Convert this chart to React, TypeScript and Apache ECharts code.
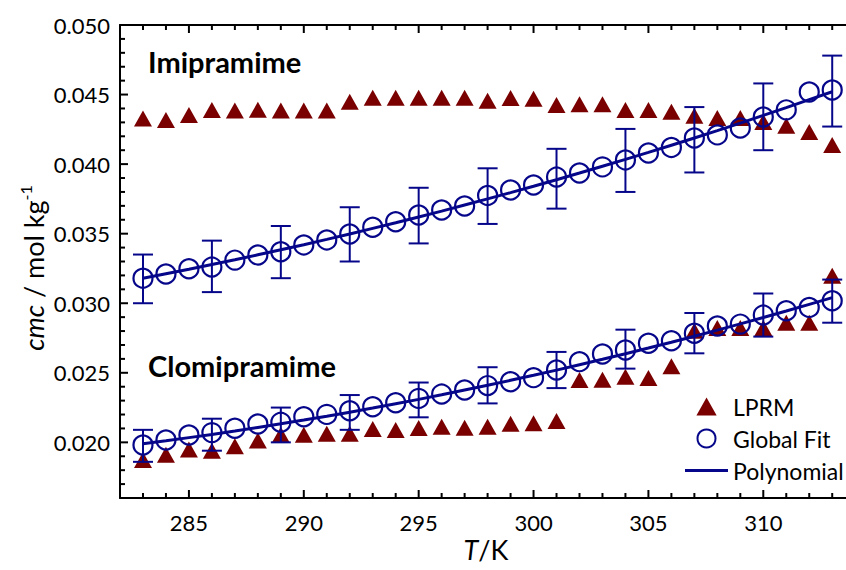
import React, { useEffect, useRef } from "react";
import * as echarts from "echarts";

const temps = [283, 284, 285, 286, 287, 288, 289, 290, 291, 292, 293, 294, 295, 296, 297, 298, 299, 300, 301, 302, 303, 304, 305, 306, 307, 308, 309, 310, 311, 312, 313];

const imiLPRM = [0.04328, 0.04317, 0.04353, 0.04389, 0.04385, 0.0439, 0.04385, 0.04385, 0.04385, 0.04449, 0.04477, 0.04477, 0.04477, 0.04477, 0.04477, 0.04455, 0.04475, 0.0447, 0.04425, 0.0443, 0.0443, 0.04389, 0.04389, 0.04377, 0.04348, 0.04331, 0.04331, 0.04303, 0.04276, 0.0423, 0.04137];
const cloLPRM = [0.01873, 0.01911, 0.01948, 0.0194, 0.01972, 0.02013, 0.02055, 0.02055, 0.02062, 0.02062, 0.02096, 0.02089, 0.02103, 0.02113, 0.02105, 0.02113, 0.02133, 0.02137, 0.02153, 0.02448, 0.0245, 0.02472, 0.02462, 0.02547, 0.02802, 0.02822, 0.02822, 0.02822, 0.02859, 0.02859, 0.03197];

const imiFit = [0.0318, 0.0321, 0.03248, 0.0326, 0.0331, 0.03347, 0.0337, 0.03419, 0.03455, 0.03498, 0.03546, 0.03586, 0.03634, 0.0367, 0.03699, 0.03775, 0.03814, 0.0385, 0.03907, 0.03936, 0.0398, 0.0403, 0.0408, 0.0412, 0.04188, 0.0421, 0.0426, 0.04339, 0.0439, 0.04518, 0.04533];
const cloFit = [0.01981, 0.02017, 0.02053, 0.0207, 0.02101, 0.02132, 0.02144, 0.02184, 0.02201, 0.02227, 0.02256, 0.02285, 0.02316, 0.02347, 0.02376, 0.02408, 0.02436, 0.02465, 0.0252, 0.0258, 0.02635, 0.02664, 0.02712, 0.0273, 0.02784, 0.02836, 0.0285, 0.02915, 0.02946, 0.0297, 0.03018];

const imiPoly = [0.0318, 0.03212, 0.03244, 0.03278, 0.03312, 0.03348, 0.03384, 0.03421, 0.03459, 0.03498, 0.03538, 0.03578, 0.0362, 0.03662, 0.03706, 0.0375, 0.03795, 0.03841, 0.03888, 0.03936, 0.03985, 0.04034, 0.04084, 0.04136, 0.04188, 0.04241, 0.04295, 0.0435, 0.04406, 0.04463, 0.0452];
const cloPoly = [0.0199, 0.02011, 0.02034, 0.02057, 0.02081, 0.02107, 0.02133, 0.0216, 0.02188, 0.02217, 0.02247, 0.02278, 0.02309, 0.02342, 0.02376, 0.0241, 0.02446, 0.02482, 0.02519, 0.02558, 0.02597, 0.02637, 0.02678, 0.0272, 0.02763, 0.02807, 0.02852, 0.02897, 0.02944, 0.02992, 0.0304];

const errTemps = [283, 286, 289, 292, 295, 298, 301, 304, 307, 310, 313];
const imiErrLow = [0.03, 0.0308, 0.0318, 0.033, 0.0343, 0.0357, 0.0368, 0.038, 0.0394, 0.041, 0.0427];
const imiErrHigh = [0.0335, 0.0345, 0.03555, 0.0369, 0.0383, 0.0397, 0.0411, 0.04253, 0.0441, 0.0458, 0.0478];
const cloErrLow = [0.0186, 0.0194, 0.02, 0.0209, 0.0218, 0.0228, 0.0239, 0.0253, 0.0264, 0.0276, 0.0286];
const cloErrHigh = [0.0209, 0.0217, 0.0225, 0.0234, 0.0243, 0.0254, 0.0265, 0.0281, 0.0293, 0.0307, 0.0317];

// tick values
const xMajor = [285, 290, 295, 300, 305, 310];
const xMinor = [283, 284, 286, 287, 288, 289, 291, 292, 293, 294, 296, 297, 298, 299, 301, 302, 303, 304, 306, 307, 308, 309, 311, 312, 313];
const yMajor = [0.02, 0.025, 0.03, 0.035, 0.04, 0.045, 0.05];
const yMinor = [0.017, 0.018, 0.019, 0.021, 0.022, 0.023, 0.024, 0.026, 0.027, 0.028, 0.029, 0.031, 0.032, 0.033, 0.034, 0.036, 0.037, 0.038, 0.039, 0.041, 0.042, 0.043, 0.044, 0.046, 0.047, 0.048, 0.049];

const X_MIN = 282;
const X_MAX = 313.6;
const Y_MIN = 0.016;
const Y_MAX = 0.05;

const RED = "#7a0000";
const NAVY = "#06068a";
const FONT = "Lato";
const W = 846;
const H = 570;
const MAJOR_LEN = 8;
const MINOR_LEN = 5;

function App() {
  const ref = useRef<HTMLDivElement>(null);
  useEffect(() => {
    if (!ref.current) return;
    const chart = echarts.init(ref.current, null, { renderer: "svg" });
    const pair = (arr: number[]) => temps.map((t, i) => [t, arr[i]]);
    const errData = (lo: number[], hi: number[]) => errTemps.map((t, i) => [t, lo[i], hi[i]]);

    const axisLineStyle = { color: "#000", width: 2 };
    const off = { show: false };

    const errRender = (params: any, api: any) => {
      const x = api.value(0);
      const lo = api.coord([x, api.value(1)]);
      const hi = api.coord([x, api.value(2)]);
      const w = 10;
      const style = { stroke: NAVY, lineWidth: 2, fill: "none" };
      return {
        type: "group",
        children: [
          { type: "line", shape: { x1: lo[0], y1: lo[1], x2: hi[0], y2: hi[1] }, style },
          { type: "line", shape: { x1: lo[0] - w, y1: lo[1], x2: lo[0] + w, y2: lo[1] }, style },
          { type: "line", shape: { x1: hi[0] - w, y1: hi[1], x2: hi[0] + w, y2: hi[1] }, style },
        ],
      };
    };

    // inside axis ticks, placed through the axis scales: bottom + top for x, left for y
    const xTickRender = (params: any, api: any) => {
      const v = api.value(0);
      const major = api.value(2) === 1;
      const len = major ? MAJOR_LEN : MINOR_LEN;
      const b = api.coord([v, Y_MIN]);
      const t = api.coord([v, Y_MAX]);
      const style = { stroke: "#000", lineWidth: 2 };
      return {
        type: "group",
        children: [
          { type: "line", shape: { x1: b[0], y1: b[1], x2: b[0], y2: b[1] - len }, style },
          { type: "line", shape: { x1: t[0], y1: t[1], x2: t[0], y2: t[1] + len }, style },
        ],
      };
    };
    const yTickRender = (params: any, api: any) => {
      const v = api.value(1);
      const major = api.value(2) === 1;
      const len = major ? MAJOR_LEN : MINOR_LEN;
      const p = api.coord([X_MIN, v]);
      const style = { stroke: "#000", lineWidth: 2 };
      return {
        type: "group",
        children: [{ type: "line", shape: { x1: p[0], y1: p[1], x2: p[0] + len, y2: p[1] }, style }],
      };
    };
    const xTickData = [...xMajor.map((v) => [v, Y_MIN, 1]), ...xMinor.map((v) => [v, Y_MIN, 0])];
    const yTickData = [...yMajor.map((v) => [X_MIN, v, 1]), ...yMinor.map((v) => [X_MIN, v, 0])];

    const triStyle = { color: RED, opacity: 1 };
    const circStyle = { color: "rgba(0,0,0,0)", borderColor: NAVY, borderWidth: 2.2, opacity: 1 };

    chart.setOption({
      animation: false,
      grid: { left: 120, right: 0, top: 25, bottom: 72 },
      xAxis: [
        {
          type: "value", position: "bottom", min: X_MIN, max: X_MAX,
          splitLine: off, axisTick: off,
          axisLine: { show: true, lineStyle: axisLineStyle },
          axisLabel: { show: true, customValues: xMajor, margin: 13, color: "#000", fontSize: 22, fontFamily: FONT },
        },
        {
          type: "value", position: "top", min: X_MIN, max: X_MAX,
          splitLine: off, axisTick: off, axisLabel: off,
          axisLine: { show: true, lineStyle: axisLineStyle },
        },
      ],
      yAxis: {
        type: "value", position: "left", min: Y_MIN, max: Y_MAX,
        splitLine: off, axisTick: off,
        axisLine: { show: true, lineStyle: axisLineStyle },
        axisLabel: {
          show: true, customValues: yMajor, margin: 10, color: "#000", fontSize: 22, fontFamily: FONT,
          formatter: (v: number) => v.toFixed(3),
        },
      },
      legend: {
        orient: "vertical",
        left: 685,
        top: 395,
        padding: 0,
        itemWidth: 43,
        itemHeight: 18,
        itemGap: 9,
        textStyle: { color: "#000", fontSize: 23, fontFamily: FONT },
        data: [
          { name: "LPRM", icon: "path://M9,0L18,16L0,16Z", itemStyle: { color: RED, opacity: 1 } },
          { name: "Global Fit", icon: "circle", itemStyle: { color: "rgba(0,0,0,0)", borderColor: NAVY, borderWidth: 2, opacity: 1 } },
          { name: "Polynomial", icon: "path://M0,0L43,0L43,3L0,3Z", itemStyle: { color: NAVY, opacity: 1 } },
        ],
      },
      graphic: [
        { type: "text", left: 148, top: 47, style: { text: "Imipramime", font: `bold 29px ${FONT}`, fill: "#000" } },
        { type: "text", left: 148, top: 351, style: { text: "Clomipramime", font: `bold 29px ${FONT}`, fill: "#000" } },
        {
          type: "text",
          x: 33,
          y: 268,
          rotation: Math.PI / 2,
          style: {
            text: "{i|cmc}{n| / mol kg}{s|-1}",
            align: "center",
            verticalAlign: "middle",
            rich: {
              i: { fontStyle: "italic", fontSize: 27, fontFamily: FONT, fill: "#000", lineHeight: 32 },
              n: { fontSize: 27, fontFamily: FONT, fill: "#000", lineHeight: 32 },
              s: { fontSize: 16, fontFamily: FONT, fill: "#000", verticalAlign: "top", lineHeight: 32 },
            },
          },
        },
        {
          type: "text",
          x: 486,
          y: 549,
          style: {
            text: "{i|T}{n|/K}",
            align: "center",
            verticalAlign: "middle",
            rich: {
              i: { fontStyle: "italic", fontSize: 27, fontFamily: FONT, fill: "#000" },
              n: { fontSize: 27, fontFamily: FONT, fill: "#000" },
            },
          },
        },
      ],
      series: [
        { name: "LPRM", type: "scatter", symbol: "triangle", symbolSize: [18, 16], itemStyle: triStyle, data: pair(imiLPRM), z: 2 },
        { name: "LPRM", type: "scatter", symbol: "triangle", symbolSize: [18, 16], itemStyle: triStyle, data: pair(cloLPRM), z: 2 },
        { name: "Global Fit", type: "scatter", symbol: "circle", symbolSize: 19, itemStyle: circStyle, data: pair(imiFit), z: 3 },
        { name: "Global Fit", type: "scatter", symbol: "circle", symbolSize: 19, itemStyle: circStyle, data: pair(cloFit), z: 3 },
        { name: "errImi", type: "custom", renderItem: errRender, encode: { x: 0, y: [1, 2] }, data: errData(imiErrLow, imiErrHigh), z: 4 },
        { name: "errClo", type: "custom", renderItem: errRender, encode: { x: 0, y: [1, 2] }, data: errData(cloErrLow, cloErrHigh), z: 4 },
        { name: "Polynomial", type: "line", symbol: "none", lineStyle: { color: NAVY, width: 3 }, itemStyle: { color: NAVY }, data: pair(imiPoly), z: 5 },
        { name: "Polynomial", type: "line", symbol: "none", lineStyle: { color: NAVY, width: 3 }, itemStyle: { color: NAVY }, data: pair(cloPoly), z: 5 },
        { name: "xTicks", type: "custom", renderItem: xTickRender, encode: { x: 0, y: 1 }, data: xTickData, z: 10 },
        { name: "yTicks", type: "custom", renderItem: yTickRender, encode: { x: 0, y: 1 }, data: yTickData, z: 10 },
      ],
    });
    return () => chart.dispose();
  }, []);
  return <div ref={ref} style={{ position: "absolute", left: 0, top: 0, width: W, height: H }} />;
}

export default App;
